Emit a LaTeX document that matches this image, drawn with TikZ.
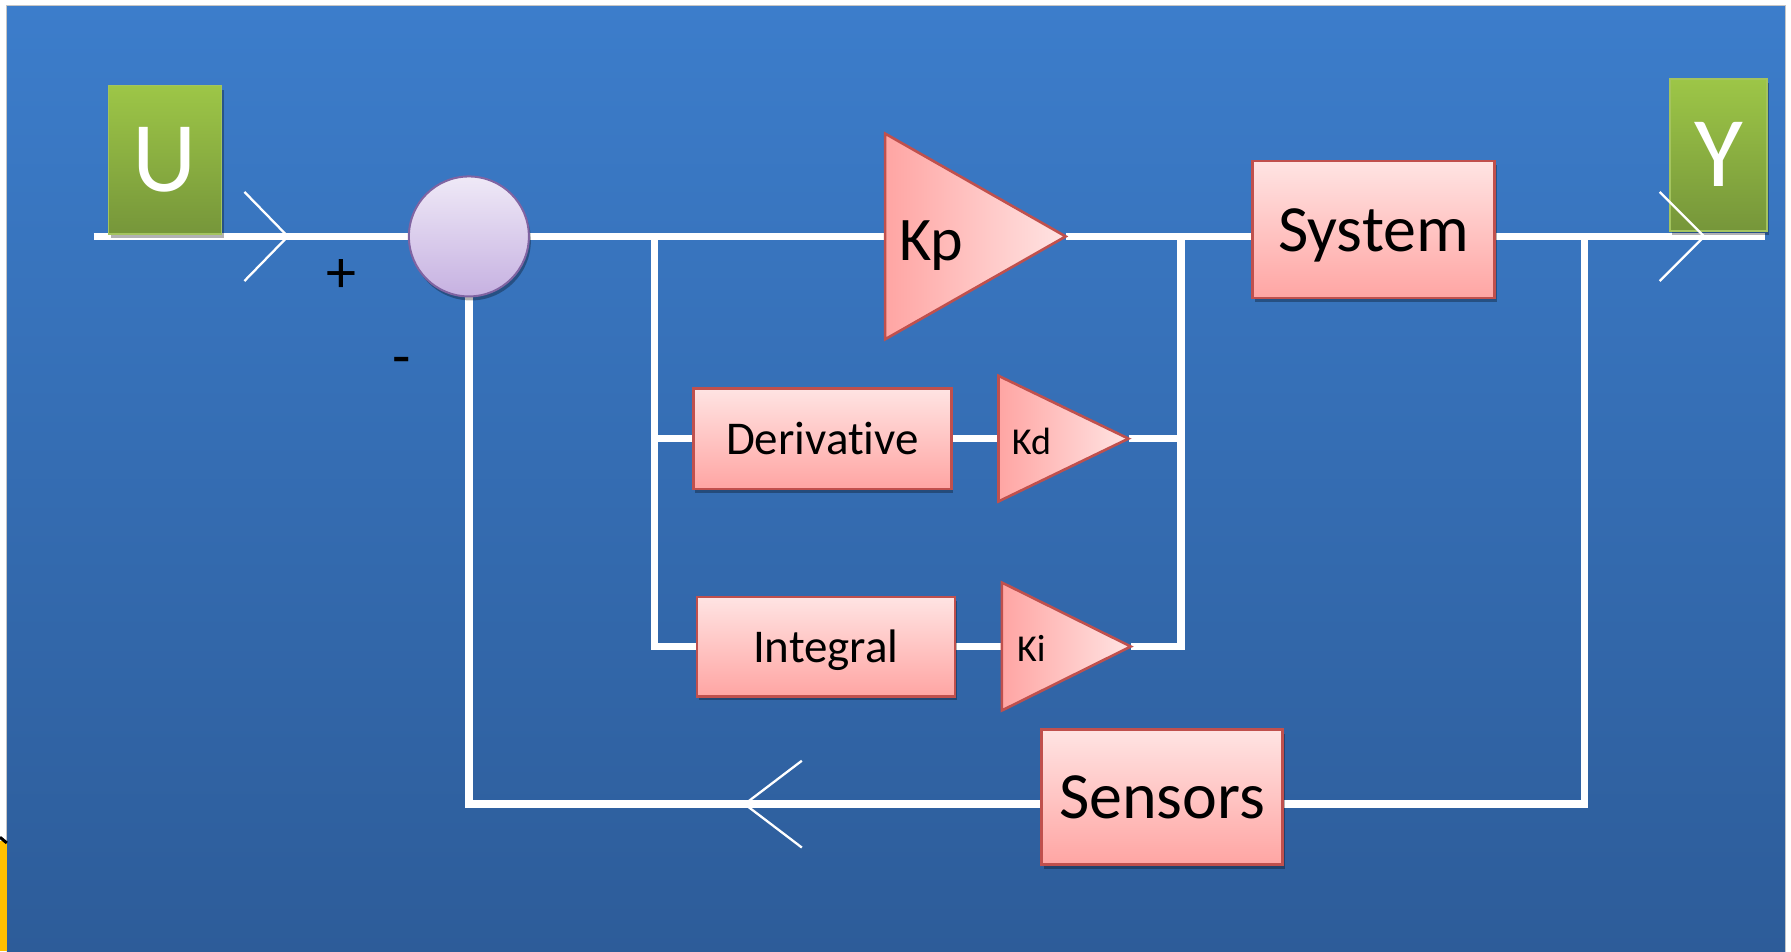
\documentclass[tikz,border=0pt]{standalone}
\usepackage{fontspec}
\setmainfont{Carlito}[Ligatures=NoCommon]
\usetikzlibrary{shapes.geometric,shadows}
\pgfdeclarelayer{back}
\pgfdeclarelayer{wires}
\pgfsetlayers{back,wires,main}
\definecolor{bgtop}{HTML}{3C7DCB}
\definecolor{bgbot}{HTML}{2D5C99}
\definecolor{pinktop}{HTML}{FFE4E3}
\definecolor{pinkbot}{HTML}{FFA5A3}
\definecolor{redb}{HTML}{C0504D}
\definecolor{greentop}{HTML}{9DC647}
\definecolor{greenbot}{HTML}{76963A}
\definecolor{greenb}{HTML}{A4C45E}
\definecolor{lavtop}{HTML}{EFE9F7}
\definecolor{lavbot}{HTML}{C6B1E1}
\definecolor{purpb}{HTML}{8064A2}
\definecolor{yel}{HTML}{FFC000}
\begin{document}
\begin{tikzpicture}[x=1.1422pt,y=-1.1422pt,
  wire/.style={white,line width=7.5pt},
  chev/.style={white,line width=2.3pt},
  softshadow/.style={drop shadow={shadow xshift=2pt,shadow yshift=-4pt,opacity=0.3,fill=black}},
  blockbox/.style={rectangle,draw=redb,line width=2.6pt,top color=pinktop,bottom color=pinkbot,
    inner sep=0pt,outer sep=0pt,text depth=0pt,softshadow},
  gain/.style={isosceles triangle,isosceles triangle stretches,shape border rotate=0,
    draw=redb,line width=2.6pt,left color=pinkbot,right color=pinktop,inner sep=0pt,outer sep=0pt},
  iobox/.style={rectangle,draw=greenb,line width=1.5pt,top color=greentop,bottom color=greenbot,
    inner sep=0pt,outer sep=0pt,text=white,text depth=0pt,font=\fontsize{100}{100}\selectfont,softshadow},
  bigtxt/.style={font=\fontsize{66}{70}\selectfont},
  midtxt/.style={font=\fontsize{47}{50}\selectfont},
  gaintxt/.style={inner sep=0pt,text depth=0pt},
  signtxt/.style={inner sep=0pt,font=\fontsize{60}{60}\selectfont,text=black}
]
\useasboundingbox (0,0) rectangle (1568,833);

% background
\begin{pgfonlayer}{back}
  \shade[top color=bgtop,bottom color=bgbot] (6,5) rectangle (1563,833);
  \draw[gray!45,line width=1.2pt] (6,833) -- (6,5) -- (1563,5) -- (1563,833);
  \fill[yel] (0,736) rectangle (6,833);
  \draw[black,line width=3pt] (0,733) -- (6,738);
\end{pgfonlayer}

% input / output boxes
\node[iobox,minimum width=113pt,minimum height=148.5pt] (u) at (144.5,140) {U};
\node[iobox,minimum width=97pt,minimum height=152pt] (y) at (1504.5,135.5) {Y};

% summing junction
\node[circle,draw=purpb,line width=2pt,top color=lavtop,bottom color=lavbot,
  minimum size=120pt,inner sep=0pt,outer sep=0pt,softshadow] (sum) at (410.5,207) {};
\node[signtxt] (plus) at (299,242) {+};
\node[signtxt] (minus) at (352,321) {-};

% proportional gain (min height = horizontal extent, min width = base length)
\node[gain,minimum height=180.5pt,minimum width=205.6pt,anchor=east] (kp) at (933,207) {};
\node[gaintxt,font=\fontsize{62}{64}\selectfont] (kptxt) at (815,211) {Kp};

% system
\node[blockbox,bigtxt,minimum width=242pt,minimum height=137pt] (sys) at (1202.5,201) {System};

% derivative branch
\node[blockbox,midtxt,minimum width=258pt,minimum height=100.5pt] (der) at (720,384) {Derivative};
\node[gain,minimum height=130pt,minimum width=125.6pt,anchor=east] (kd) at (988,384) {};
\node[gaintxt,font=\fontsize{38}{40}\selectfont] (kdtxt) at (903,386) {Kd};

% integral branch
\node[blockbox,midtxt,minimum width=258pt,minimum height=99.4pt] (int) at (723,566) {Integral};
\node[gain,minimum height=129pt,minimum width=128pt,anchor=east] (ki) at (990,566) {};
\node[gaintxt,font=\fontsize{38}{40}\selectfont] (kitxt) at (903,568) {Ki};

% sensors
\node[blockbox,bigtxt,minimum width=241pt,minimum height=135pt] (sens) at (1017.5,698) {Sensors};

% junction coordinates
\coordinate (uin) at (82,207);
\coordinate (jl) at (573,207);
\coordinate (jr) at (1034,207);
\coordinate (jo) at (1387,207);
\coordinate (yend) at (1545,207);
\coordinate (fb) at (410.5,704);

% chevron coordinates
\coordinate (c1t) at (252,207);
\coordinate (c1a) at (214,168);
\coordinate (c1b) at (214,246);
\coordinate (c2t) at (1492,207);
\coordinate (c2a) at (1453,168);
\coordinate (c2b) at (1453,246);
\coordinate (c3t) at (652,704);
\coordinate (c3a) at (702,666);
\coordinate (c3b) at (702,742);

\begin{pgfonlayer}{wires}
  \draw[wire] (uin) -- (sum.west);
  \draw[wire] (sum.east) -- (kp.west);
  \draw[wire] (kp.east) -- (kp.east -| sys.west);
  \draw[wire] (sys.east |- yend) -- (yend);
  \draw[wire] (jl) |- (int.west);
  \draw[wire] (jl |- der.west) -- (der.west);
  \draw[wire] (der.east) -- (kd.west);
  \draw[wire] (int.east) -- (ki.west);
  \draw[wire] (kd.east) -- (jr |- kd.east);
  \draw[wire] (ki.east) -| (jr);
  \draw[wire] (jo) |- (sens.east |- fb);
  \draw[wire] (sens.west |- fb) -- (fb) -- (sum.south);
\end{pgfonlayer}

\draw[chev] (c1a) -- (c1t) -- (c1b);
\draw[chev] (c2a) -- (c2t) -- (c2b);
\draw[chev] (c3a) -- (c3t) -- (c3b);
\end{tikzpicture}
\end{document}
